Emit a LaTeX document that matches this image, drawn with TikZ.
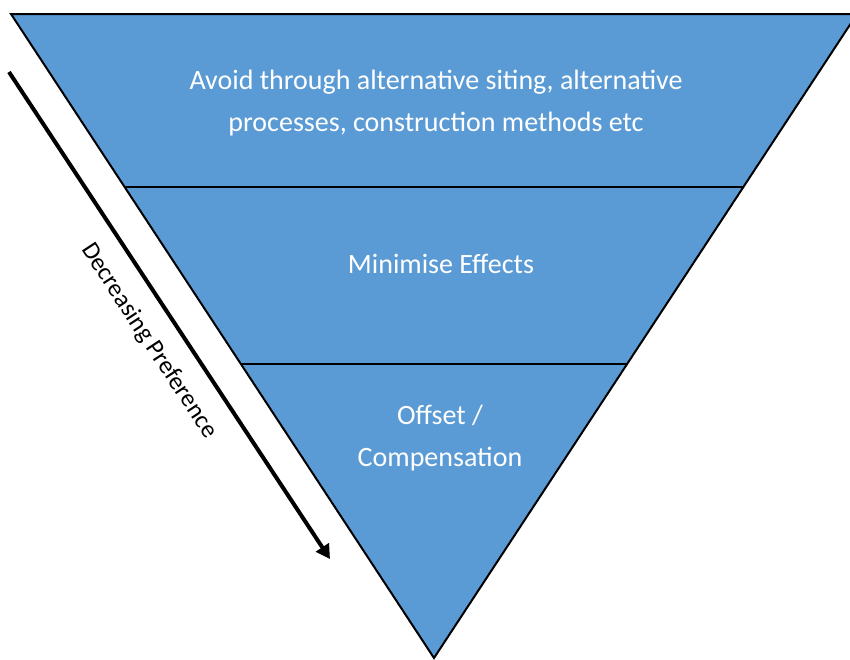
\documentclass[tikz,border=0pt]{standalone}
\usepackage{fontspec}
\setmainfont{Carlito}
\usepackage{xcolor}
\definecolor{HierBlue}{HTML}{5B9BD5}
\usetikzlibrary{calc, arrows.meta, positioning}

\begin{document}
\begin{tikzpicture}[x=1pt, y=-1pt,
    tier/.style={text=white, font=\fontsize{28}{42}\selectfont, align=center},
    edge/.style={line width=2pt}]
    \useasboundingbox (0,0) rectangle (850,659);
    % Inverted triangle
    \coordinate (TL) at (11,14);
    \coordinate (TR) at (857,14);
    \coordinate (apex) at (434,658);
    \draw[edge, fill=HierBlue] (TL) -- (TR) -- (apex) -- cycle;
    % Tier dividers
    \coordinate (L1) at ($(TL)!0.2686!(apex)$);
    \coordinate (R1) at ($(TR)!0.2686!(apex)$);
    \coordinate (L2) at ($(TL)!0.5435!(apex)$);
    \coordinate (R2) at ($(TR)!0.5435!(apex)$);
    \draw[edge] (L1) -- (R1);
    \draw[edge] (L2) -- (R2);
    % Tier labels
    \node[tier] (avoid) at (436,103)
      {Avoid through alternative siting, alternative\\processes, construction methods etc};
    \node[tier] (minimise) at (441,264) {Minimise Effects};
    \node[tier] (offset) at (440,438) {Offset /\\Compensation};
    % Preference arrow
    \coordinate (prefStart) at (9,72);
    \coordinate (prefEnd) at (330,559);
    \draw[line width=4pt, -{Triangle[length=14pt,width=15pt]}] (prefStart) -- (prefEnd);
    \node[rotate=-56.7, font=\fontsize{25}{28}\selectfont] (pref) at (149,341)
      {Decreasing Preference};
\end{tikzpicture}
\end{document}
